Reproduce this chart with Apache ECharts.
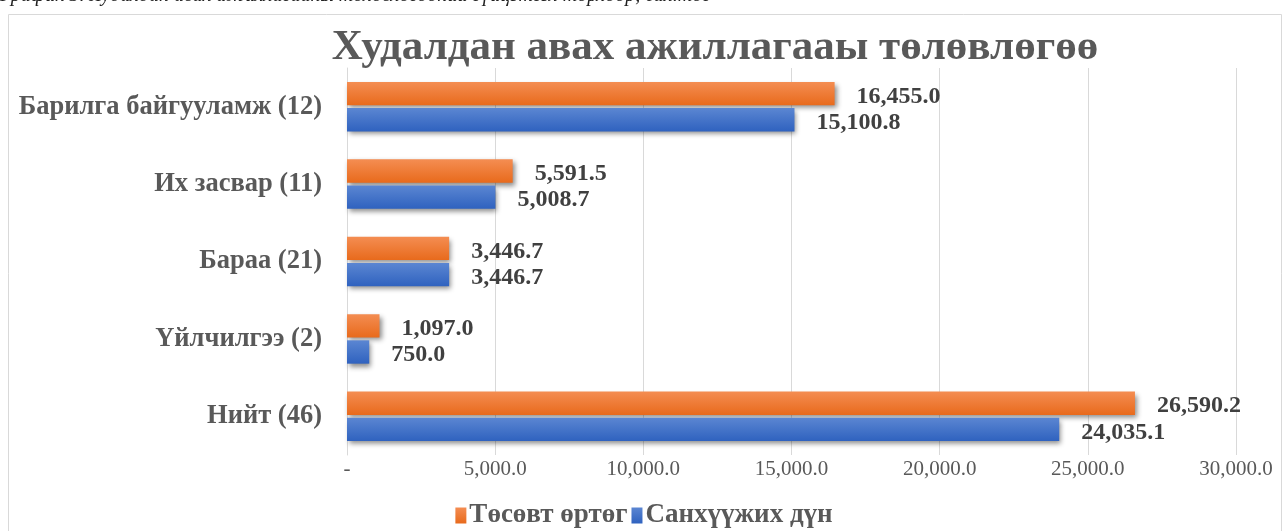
<!DOCTYPE html>
<html>
<head>
<meta charset="utf-8">
<script src="https://cdn.jsdelivr.net/npm/echarts@6/dist/echarts.min.js"></script>
<style>
html,body{margin:0;padding:0;background:#fff;}
#c{width:1288px;height:531px;}
</style>
</head>
<body>
<div id="c"></div>
<script>
const categories = ['Барилга байгууламж (12)', 'Их засвар (11)', 'Бараа (21)', 'Үйлчилгээ (2)', 'Нийт (46)'];
const budget = [16455.0, 5591.5, 3446.7, 1097.0, 26590.2];
const funding = [15100.8, 5008.7, 3446.7, 750.0, 24035.1];
const seriesNames = ['Төсөвт өртөг', 'Санхүүжих дүн'];
const titleText = 'Худалдан авах ажиллагааы төлөвлөгөө';
const captionText = 'График 3. Худалдан авах ажиллагааны төлөвлөгөөний гүйцэтгэл төрлөөр, сая.төг';

const fmt1 = v => Number(v).toLocaleString('en-US', {minimumFractionDigits: 1, maximumFractionDigits: 1});
const serif = '"Liberation Serif", "DejaVu Serif", serif';

const chart = echarts.init(document.getElementById('c'), null, {renderer: 'canvas'});

function grad(top, bottom) {
  return new echarts.graphic.LinearGradient(0, 0, 0, 1, [
    {offset: 0, color: top}, {offset: 1, color: bottom}
  ]);
}

const labelStyle = {
  show: true,
  position: 'right',
  distance: 22,
  offset: [0, 3],
  fontFamily: serif,
  fontWeight: 'bold',
  fontSize: 24,
  color: '#404040',
  formatter: p => fmt1(p.value)
};

chart.setOption({
  animation: false,
  graphic: [
    {type: 'rect', shape: {x: 8.5, y: 14.5, width: 1273, height: 530}, style: {fill: 'none', stroke: '#d9d9d9', lineWidth: 1}},
    {type: 'text', left: 0, top: -14, style: {text: captionText, font: 'italic 20px ' + serif, fill: '#222'}}
  ],
  title: {
    text: titleText,
    left: 710,
    top: 21,
    textAlign: 'center',
    textStyle: {fontFamily: serif, fontWeight: 'bold', fontSize: 43, color: '#595959'}
  },
  legend: {
    bottom: -3,
    left: 'center',
    itemWidth: 11,
    itemHeight: 16,
    itemGap: 4,
    icon: 'rect',
    textStyle: {fontFamily: serif, fontWeight: 'bold', fontSize: 27, color: '#595959', padding: [0, 0, 0, -2]},
    data: seriesNames
  },
  grid: {left: 347, right: 52, top: 68, bottom: 76},
  xAxis: {
    type: 'value',
    min: 0,
    max: 30000,
    interval: 5000,
    axisLine: {show: false},
    axisTick: {show: false},
    splitLine: {show: true, lineStyle: {color: '#d9d9d9', width: 1}},
    axisLabel: {
      margin: 4,
      fontFamily: serif,
      fontSize: 21,
      color: '#595959',
      formatter: v => v === 0 ? '-' : fmt1(v)
    }
  },
  yAxis: {
    type: 'category',
    inverse: true,
    data: categories,
    axisLine: {show: true, lineStyle: {color: '#d9d9d9'}},
    axisTick: {show: false},
    axisLabel: {
      margin: 25,
      fontFamily: serif,
      fontWeight: 'bold',
      fontSize: 26.5,
      color: '#595959'
    }
  },
  series: [
    {
      name: seriesNames[0],
      type: 'bar',
      data: budget,
      barGap: '12%',
      barCategoryGap: '36%',
      itemStyle: {
        color: grad('#f48d52', '#e86a1c'),
        shadowColor: 'rgba(0,0,0,0.45)',
        shadowBlur: 5,
        shadowOffsetX: 2,
        shadowOffsetY: 3
      },
      label: labelStyle
    },
    {
      name: seriesNames[1],
      type: 'bar',
      data: funding,
      barGap: '12%',
      barCategoryGap: '36%',
      itemStyle: {
        color: grad('#5b86d2', '#2f62bf'),
        shadowColor: 'rgba(0,0,0,0.45)',
        shadowBlur: 5,
        shadowOffsetX: 2,
        shadowOffsetY: 3
      },
      label: labelStyle
    }
  ]
});
</script>
</body>
</html>
